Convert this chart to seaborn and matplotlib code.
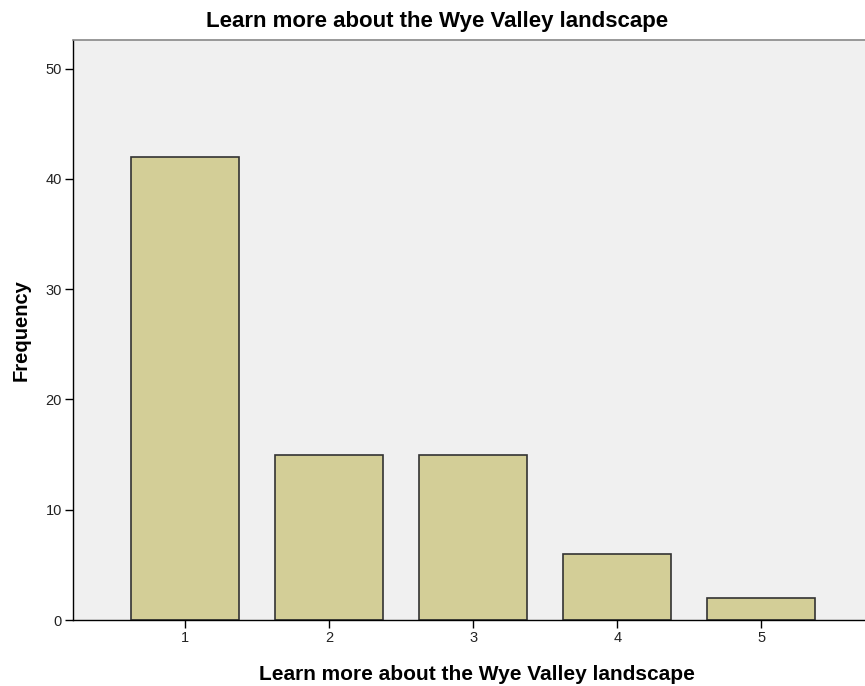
import matplotlib
matplotlib.use("Agg")
import matplotlib.pyplot as plt
import seaborn as sns
import pandas as pd

# response codes and their counts
codes = ["1", "2", "3", "4", "5"]
counts = [42, 15, 15, 6, 2]
label = "Learn more about the Wye Valley landscape"

df = pd.DataFrame({"code": codes, "freq": counts})

sns.set_style("white")
plt.rcParams["font.family"] = ["Liberation Sans", "DejaVu Sans"]
plt.rcParams["text.color"] = "black"
plt.rcParams["axes.labelcolor"] = "black"
plt.rcParams["xtick.color"] = "black"
plt.rcParams["ytick.color"] = "black"

fig = plt.figure(figsize=(8.65, 6.86), dpi=100)
ax = fig.add_axes([73 / 865, 1 - 620 / 686, 1 - 73 / 865, 580 / 686])
ax.set_facecolor("#f0f0f0")

sns.barplot(data=df, x="code", y="freq", color="#d3ce97", edgecolor="#333333",
            linewidth=1.2, width=0.75, saturation=1, ax=ax)

ax.set_xlim(-0.78, 4.72)
ax.set_ylim(0, 52.6)
ax.set_yticks([0, 10, 20, 30, 40, 50])

for s in ["left", "bottom"]:
    ax.spines[s].set_color("black")
    ax.spines[s].set_linewidth(1.0)
ax.spines["top"].set_color("#888888")
ax.spines["top"].set_linewidth(1.2)
ax.spines["right"].set_visible(False)

ax.tick_params(axis="both", direction="out", length=6, width=1,
               labelsize=10.5, bottom=True, left=True, pad=2,
               labelcolor="#222222")
# SPSS centres the title on the whole chart, not the plot area
fig.text(0.505, 1 - 22 / 686, label, fontsize=16, fontweight="bold",
         ha="center", va="center")
ax.set_xlabel(label, fontsize=15, fontweight="bold")
ax.xaxis.set_label_coords(0.51, -0.078)
ax.set_ylabel("Frequency", fontsize=14.5, fontweight="bold", labelpad=11)

fig.savefig("out.png", dpi=100)
